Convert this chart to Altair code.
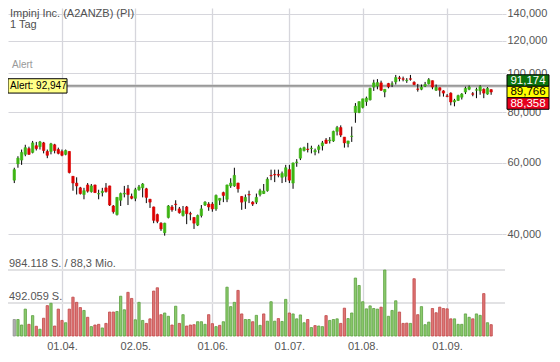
import altair as alt
import numpy as np
import pandas as pd

TITLE = "Impinj Inc. (A2ANZB) (PI)"
PERIOD = "1 Tag"
ALERT_CAPTION = "Alert"

OPEN = [
    54.40, 59.66, 60.98, 63.00, 65.08, 63.69, 66.16, 65.80, 67.24, 64.04,
    64.04, 66.52, 64.74, 64.04, 63.00, 64.04, 55.60, 53.51, 52.08, 50.14,
    52.94, 50.96, 52.94, 50.28, 50.69, 52.08, 52.65, 46.98, 44.74, 48.53,
    50.28, 51.80, 49.60, 49.07, 51.52, 52.08, 51.80, 48.80, 46.72, 44.74,
    42.60, 40.34, 44.01, 46.72, 47.49, 46.21, 44.50, 46.72, 44.98, 44.01,
    42.14, 44.50, 47.23, 47.49, 47.49, 46.21, 48.53, 50.69, 48.80, 52.65,
    52.65, 53.51, 49.60, 48.27, 50.14, 48.01, 48.01, 50.14, 50.41, 51.24,
    55.90, 56.20, 56.20, 55.29, 55.60, 57.75, 53.51, 60.16, 61.64, 64.39,
    64.90, 65.08, 63.87, 64.74, 66.16, 68.35, 68.10, 67.98, 71.78, 73.36,
    69.48, 66.99, 69.74, 79.93, 79.93, 82.25, 85.02, 85.88, 92.33, 92.84,
    94.55, 89.76, 94.20, 93.84, 95.07, 97.32, 96.79, 95.75, 96.79, 94.86,
    91.33, 91.18, 92.84, 94.05, 95.75, 90.69, 92.00, 90.34, 87.79, 89.22,
    84.83, 85.57, 87.14, 89.76, 91.18, 88.87, 90.69, 90.34, 91.18, 88.73,
    91.00,
]
HIGH = [
    58.38, 62.32, 64.74, 66.52, 65.80, 67.98, 67.61, 67.98, 67.61, 64.74,
    67.24, 66.88, 65.44, 64.74, 64.74, 64.10, 55.70, 55.29, 52.37, 52.08,
    53.51, 53.23, 53.00, 51.52, 52.08, 53.51, 52.70, 47.23, 49.40, 50.69,
    52.65, 52.94, 50.41, 52.08, 52.94, 53.51, 52.08, 48.90, 46.80, 44.98,
    42.83, 42.70, 47.23, 47.23, 48.53, 46.72, 46.98, 46.98, 45.47, 44.10,
    44.74, 47.23, 48.27, 48.01, 48.01, 50.14, 49.10, 50.96, 53.00, 54.99,
    58.38, 53.60, 49.70, 50.14, 51.24, 48.27, 50.41, 51.80, 53.23, 55.29,
    57.75, 57.75, 57.75, 57.13, 59.34, 59.34, 60.10, 61.31, 65.44, 65.80,
    67.24, 66.16, 65.08, 66.52, 67.98, 69.10, 69.48, 72.05, 74.04, 74.28,
    69.50, 68.00, 73.76, 84.30, 85.10, 86.40, 87.45, 92.00, 96.27, 96.60,
    95.75, 91.20, 94.55, 95.39, 98.92, 98.39, 98.00, 97.16, 98.92, 95.39,
    94.00, 93.69, 95.07, 97.16, 95.80, 93.69, 92.10, 90.69, 88.73, 89.60,
    86.35, 88.40, 89.22, 92.53, 93.15, 89.76, 92.00, 93.33, 91.67, 92.33,
    91.174,
]
LOW = [
    53.51, 58.38, 59.34, 62.32, 62.80, 63.35, 64.39, 64.74, 63.35, 61.64,
    63.00, 63.35, 63.00, 62.32, 62.66, 56.51, 51.24, 50.14, 50.14, 48.80,
    50.69, 50.69, 50.60, 48.80, 49.60, 50.69, 46.98, 44.98, 44.50, 46.98,
    49.33, 47.23, 48.80, 48.27, 51.24, 49.33, 47.75, 46.46, 42.60, 42.60,
    40.78, 39.69, 43.77, 45.47, 45.71, 44.98, 44.25, 42.37, 43.30, 41.23,
    41.91, 44.01, 46.98, 45.71, 45.47, 45.71, 47.23, 48.01, 48.01, 52.08,
    52.37, 50.69, 45.96, 46.21, 47.75, 46.98, 47.49, 49.60, 50.30, 50.96,
    54.40, 53.80, 55.29, 53.51, 53.80, 53.51, 51.80, 58.70, 60.98, 64.04,
    63.69, 63.35, 62.66, 63.35, 64.39, 66.88, 66.99, 67.61, 70.13, 69.48,
    65.44, 65.55, 67.61, 75.38, 79.59, 81.78, 83.00, 85.55, 90.34, 91.18,
    90.34, 87.14, 91.67, 92.33, 93.69, 95.39, 95.39, 94.55, 95.75, 93.33,
    89.97, 90.69, 92.33, 93.69, 91.18, 90.34, 87.45, 87.45, 87.14, 83.22,
    82.77, 85.28, 86.02, 88.73, 90.69, 87.63, 86.68, 88.40, 86.68, 88.40,
    88.358,
]
CLOSE = [
    57.75, 61.64, 63.69, 65.44, 63.00, 67.24, 65.08, 67.61, 64.39, 62.66,
    66.88, 64.39, 63.35, 62.66, 64.39, 56.82, 53.51, 52.65, 50.41, 51.24,
    51.10, 52.65, 50.69, 50.41, 51.10, 50.96, 47.23, 45.47, 49.33, 50.41,
    50.50, 50.14, 49.07, 51.52, 52.37, 53.23, 49.33, 48.01, 43.30, 43.06,
    41.23, 42.60, 46.98, 45.96, 47.36, 45.22, 45.71, 44.98, 44.86, 42.60,
    44.50, 46.21, 48.01, 46.72, 46.21, 49.87, 49.07, 49.87, 52.94, 53.51,
    55.90, 51.80, 48.01, 49.33, 50.00, 47.49, 49.33, 51.24, 51.16, 54.70,
    55.75, 56.05, 55.96, 56.51, 58.38, 54.40, 59.99, 60.32, 65.08, 65.44,
    64.74, 65.26, 64.39, 65.80, 67.24, 67.06, 68.35, 71.78, 73.36, 70.30,
    67.24, 67.98, 69.86, 82.83, 85.00, 86.35, 86.68, 91.67, 94.55, 94.70,
    90.69, 91.18, 92.53, 94.05, 97.48, 96.96, 96.53, 96.01, 96.53, 93.69,
    91.18, 92.33, 93.69, 96.27, 92.33, 92.17, 90.69, 89.22, 87.55, 84.83,
    85.57, 87.95, 88.73, 91.67, 92.33, 88.64, 90.94, 92.53, 89.22, 91.67,
    89.766,
]
VOLUME = [
    246000, 246000, 164000, 401000, 174000, 304000, 145000, 101000, 265000, 453000,
    488000, 149000, 401000, 232000, 198000, 401000, 579000, 502000, 424000, 381000,
    279000, 140000, 164000, 174000, 120000, 188000, 357000, 357000, 366000, 593000,
    391000, 651000, 560000, 242000, 502000, 232000, 188000, 256000, 670000, 719000,
    318000, 343000, 294000, 164000, 444000, 188000, 318000, 149000, 164000, 169000,
    213000, 213000, 174000, 318000, 184000, 140000, 159000, 213000, 728000, 438000,
    502000, 680000, 329000, 246000, 246000, 213000, 308000, 159000, 329000, 221000,
    511000, 221000, 260000, 217000, 546000, 343000, 329000, 256000, 314000, 198000,
    246000, 126000, 155000, 149000, 140000, 304000, 232000, 246000, 256000, 188000,
    415000, 260000, 343000, 864000, 753000, 511000, 405000, 449000, 410000, 401000,
    430000, 984118, 294000, 381000, 525000, 357000, 188000, 192000, 188000, 854000,
    318000, 438000, 169000, 207000, 410000, 347000, 430000, 410000, 405000, 256000,
    256000, 174000, 174000, 329000, 279000, 256000, 329000, 308000, 632000, 198000,
    169000,
]

TICK_POS = [13, 33, 54, 75, 95, 118]
TICK_LABELS = ["01.04.", "02.05.", "01.06.", "01.07.", "01.08.", "01.09."]
PRICE_TICKS = [40, 60, 80, 100, 120, 140]
PRICE_DOMAIN = [22.44, 144.7]

ALERT = 92.947
LAST_HIGH = 91.174
LAST = 89.766
LAST_LOW = 88.358

n = len(CLOSE)
assert len(OPEN) == n and len(HIGH) == n and len(LOW) == n and len(VOLUME) == n

# ---- layout / style ----
W, H = 494, 328
VOL_PANEL_PX = 66
FONT = "Liberation Sans"
GRID = "#d6d6dc"
TXT = "#555555"
C_UP, C_DN = "#3db512", "#dd0000"
V_UP, V_DN, V_NA = "#8bcb6c", "#df7676", "#b0b0b0"
VS_UP, VS_DN, VS_NA = "#5c9f40", "#c04848", "#909090"


def de(v, d=3):
    s = f"{v:,.{d}f}"
    return s.replace(",", "X").replace(".", ",").replace("X", ".")


df = pd.DataFrame({"i": np.arange(n), "open": OPEN, "high": HIGH,
                   "low": LOW, "close": CLOSE, "vol": VOLUME})
prev = df["close"].shift(1)
df["candle"] = np.where(df["close"] >= df["open"], "up", "down")
df["vdir"] = np.where(prev.isna(), "none",
                      np.where(df["close"] >= prev, "up", "down"))

vmax = max(VOLUME)
vol_top = vmax * H / VOL_PANEL_PX

label_expr = "''"
for pos, lab in reversed(list(zip(TICK_POS, TICK_LABELS))):
    label_expr = f"datum.value == {pos} ? '{lab}' : {label_expr}"

x_scale = alt.Scale(domain=[-0.35, n + 0.6], nice=False, zero=False)
x_axis = alt.Axis(values=TICK_POS, labelExpr=label_expr, grid=True,
                  gridColor=GRID, gridWidth=1.3, domain=False, ticks=False,
                  labelPadding=4, labelFontSize=11, labelFont=FONT,
                  labelColor=TXT, labelFlush=False, labelOverlap=False,
                  title=None, orient="bottom")


def X(field="i:Q"):
    return alt.X(field, scale=x_scale, axis=x_axis)


p_scale = alt.Scale(type="log", domain=PRICE_DOMAIN, nice=False, zero=False)
y_axis = alt.Axis(orient="right", values=PRICE_TICKS,
                  labelExpr="replace(format(datum.value, '.3f'), '.', ',')",
                  grid=True, gridColor=GRID, gridWidth=1, domain=False,
                  ticks=True, tickSize=4, tickColor=GRID, labelPadding=1,
                  labelFontSize=11, labelFont=FONT, labelColor=TXT,
                  labelFlush=False, labelOverlap=False, title=None)


def YP(field):
    return alt.Y(field, scale=p_scale, axis=y_axis)


# ---- price layers ----
alert_df = pd.DataFrame({"p": [ALERT], "label": [f"Alert: {de(ALERT)}"]})

alert_halo = alt.Chart(alert_df).mark_rule(color="#c8c8c8", strokeWidth=3).encode(
    x=alt.value(59), x2=alt.value(W + 7), y=YP("p:Q"))
alert_core = alt.Chart(alert_df).mark_rule(color="#8a8a8a", strokeWidth=1.2).encode(
    x=alt.value(59), x2=alt.value(W + 7), y=YP("p:Q"))

wick = alt.Chart(df).mark_rule(color="#000000", strokeWidth=1).encode(
    x=X(), y=YP("low:Q"), y2="high:Q")

cscale = alt.Scale(domain=["up", "down"], range=[C_UP, C_DN])
body = alt.Chart(df).mark_bar(size=2.4, strokeWidth=0.6).encode(
    x=X(), y=YP("open:Q"), y2="close:Q",
    fill=alt.Fill("candle:N", scale=cscale, legend=None),
    stroke=alt.Stroke("candle:N", scale=cscale, legend=None))

ALERT_BOX = "M-1,-0.243L1,-0.243L1,0.243L-1,0.243Z"
alert_box = alt.Chart(alert_df).mark_point(
    shape=ALERT_BOX, size=59 ** 2, filled=True, fill="#ffff88",
    stroke="#000000", strokeWidth=1, opacity=1).encode(x=alt.value(29.5), y=YP("p:Q"))
alert_txt = alt.Chart(alert_df).mark_text(
    align="left", baseline="middle", fontSize=10, font=FONT, color="#000000").encode(
    x=alt.value(2), y=YP("p:Q"), text="label:N")

PRICE_BOX = "M-1,-0.274L1,-0.274L1,0.274L-1,0.274Z"
box_specs = [(LAST_HIGH, -11.5, "#0d740d", "#ffffff"),
             (LAST, 0, "#ffff00", "#000000"),
             (LAST_LOW, 11.5, "#e6001e", "#ffffff")]
box_layers = []
for val, off, fill, tcol in box_specs:
    bdf = pd.DataFrame({"p": [LAST], "label": [de(val)]})
    box_layers.append(alt.Chart(bdf).mark_point(
        shape=PRICE_BOX, size=42 ** 2, filled=True, fill=fill, stroke="#000000",
        strokeWidth=1, opacity=1, yOffset=off).encode(x=alt.value(W + 26), y=YP("p:Q")))
    box_layers.append(alt.Chart(bdf).mark_text(
        align="center", baseline="middle", fontSize=11.5, font=FONT, color=tcol,
        yOffset=off).encode(x=alt.value(W + 26), y=YP("p:Q"), text="label:N"))

head_df = pd.DataFrame({"t": [TITLE], "s": [PERIOD], "a": [ALERT_CAPTION]})
title_txt = alt.Chart(head_df).mark_text(
    align="left", baseline="middle", fontSize=11, font=FONT, color="#505050").encode(
    x=alt.value(2), y=alt.value(6), text="t:N")
period_txt = alt.Chart(head_df).mark_text(
    align="left", baseline="middle", fontSize=11, font=FONT, color="#505050").encode(
    x=alt.value(2), y=alt.value(16.5), text="s:N")
caption_txt = alt.Chart(head_df).mark_text(
    align="left", baseline="middle", fontSize=10, font=FONT, color="#999999").encode(
    x=alt.value(4), y=alt.value(57), text="a:N")

price = alt.layer(alert_halo, alert_core, wick, body, alert_box, alert_txt,
                  *box_layers, title_txt, period_txt, caption_txt)

# ---- volume layers ----
v_scale = alt.Scale(domain=[0, vol_top], nice=False, zero=False)


def YV(field):
    return alt.Y(field, scale=v_scale, axis=None)


vcol = alt.Scale(domain=["up", "down", "none"], range=[V_UP, V_DN, V_NA])
vstr = alt.Scale(domain=["up", "down", "none"], range=[VS_UP, VS_DN, VS_NA])
vol_bars = alt.Chart(df).mark_bar(size=2.3, strokeWidth=0.8).encode(
    x=X(), y=YV("vol:Q"),
    fill=alt.Fill("vdir:N", scale=vcol, legend=None),
    stroke=alt.Stroke("vdir:N", scale=vstr, legend=None))

vl_df = pd.DataFrame({
    "v": [vmax, round(vmax / 2)],
    "label": [f"{de(vmax, 0)} S. / {de(vmax * LAST / 1e6, 1)} Mio.",
              f"{de(round(vmax / 2), 0)} S."]})
vol_rules = alt.Chart(vl_df).mark_rule(color="#e2e2e4", strokeWidth=2).encode(
    x=alt.value(0), x2=alt.value(W + 3), y=YV("v:Q"))
vol_txt = alt.Chart(vl_df).mark_text(
    align="left", baseline="bottom", dy=-1, fontSize=11, font=FONT, color=TXT).encode(
    x=alt.value(1), y=YV("v:Q"), text="label:N")

volume = alt.layer(vol_rules, vol_bars, vol_txt)

chart = alt.layer(volume, price).resolve_scale(
    y="independent", fill="independent", stroke="independent"
).properties(
    width=W, height=H, background="white",
    autosize=alt.AutoSizeParams(type="none"),
    padding={"left": 0, "top": 0, "right": 50, "bottom": 18},
).configure_view(stroke=None)

chart.save("out.html", embed_options={"renderer": "svg", "actions": False})
